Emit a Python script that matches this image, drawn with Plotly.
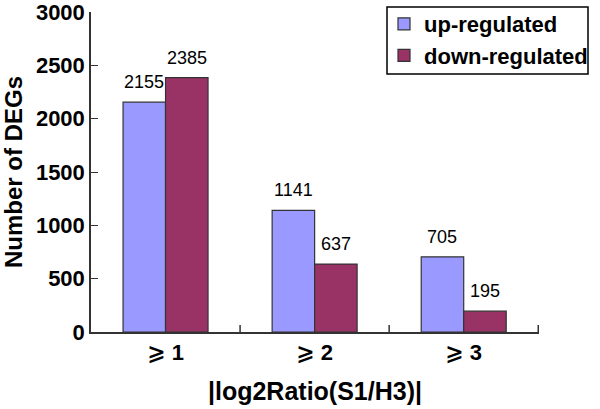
import plotly.graph_objects as go

categories = ["⩾ 1", "⩾ 2", "⩾ 3"]
up_values = [2155, 1141, 705]
down_values = [2385, 637, 195]
series_names = ["up-regulated", "down-regulated"]
y_ticks = [0, 500, 1000, 1500, 2000, 2500, 3000]

FONT = "Liberation Sans, Arial, DejaVu Sans, sans-serif"
BLUE = "#9999FF"
RED = "#993366"
EDGE = "#333333"

fig = go.Figure()
fig.add_trace(go.Bar(x=categories, y=up_values, name=series_names[0],
                     marker=dict(color=BLUE, line=dict(color=EDGE, width=1.2))))
fig.add_trace(go.Bar(x=categories, y=down_values, name=series_names[1],
                     marker=dict(color=RED, line=dict(color=EDGE, width=1.2))))

annotations = []
for vals, shift in ((up_values, -21.5), (down_values, 21.5)):
    for c, v in zip(categories, vals):
        annotations.append(dict(x=c, y=v, text=str(v), showarrow=False,
                                xshift=shift, yshift=8, yanchor="bottom",
                                font=dict(family=FONT, size=18, color="black")))

fig.update_layout(
    width=600, height=409,
    margin=dict(l=91, r=61, t=12, b=77, autoexpand=False),
    paper_bgcolor="white", plot_bgcolor="white",
    barmode="group", bargap=0.43, bargroupgap=0,
    font=dict(family=FONT, color="black"),
    showlegend=True,
    legend=dict(x=(593 - 91) / 448, y=(332 - 3) / 320,
                xanchor="right", yanchor="top",
                borderwidth=0, bgcolor="rgba(0,0,0,0)",
                font=dict(family=FONT, size=22, color="black", weight="bold"),
                tracegroupgap=2),
    annotations=annotations,
    xaxis=dict(showline=True, linecolor="#333333", linewidth=1.5,
               ticks="", automargin=False,
               tickfont=dict(family=FONT, size=22, weight="bold"),
               title=dict(text="|log2Ratio(S1/H3)|", standoff=18,
                          font=dict(family=FONT, size=25, weight="bold"))),
    yaxis=dict(range=[0, 3000], tickvals=y_ticks, showline=True,
               linecolor="#333333", linewidth=1.5, ticks="inside", ticklen=7,
               tickcolor="#333333", showgrid=False, zeroline=False,
               automargin=False, ticklabeloverflow="allow",
               tickfont=dict(family=FONT, size=22, weight="bold"),
               title=dict(text="Number of DEGs", standoff=10,
                          font=dict(family=FONT, size=24, weight="bold"))),
)

# category boundary ticks on x-axis (pointing up, inside)
for i in range(1, len(categories) + 1):
    fig.add_shape(type="line", xref="x", yref="paper",
                  x0=i - 0.5, x1=i - 0.5, y0=0, y1=0.022,
                  line=dict(color="#333333", width=1.5))

# legend frame
fig.add_shape(type="rect", xref="paper", yref="paper",
              x0=(387 - 91) / 448, x1=(588 - 91) / 448,
              y0=(332 - 74) / 320, y1=(332 - 7) / 320,
              line=dict(color="black", width=1.5), fillcolor="white",
              layer="above")

fig.write_html("out.html", config={"displayModeBar": False},
               post_script="document.body.style.margin='0';")
